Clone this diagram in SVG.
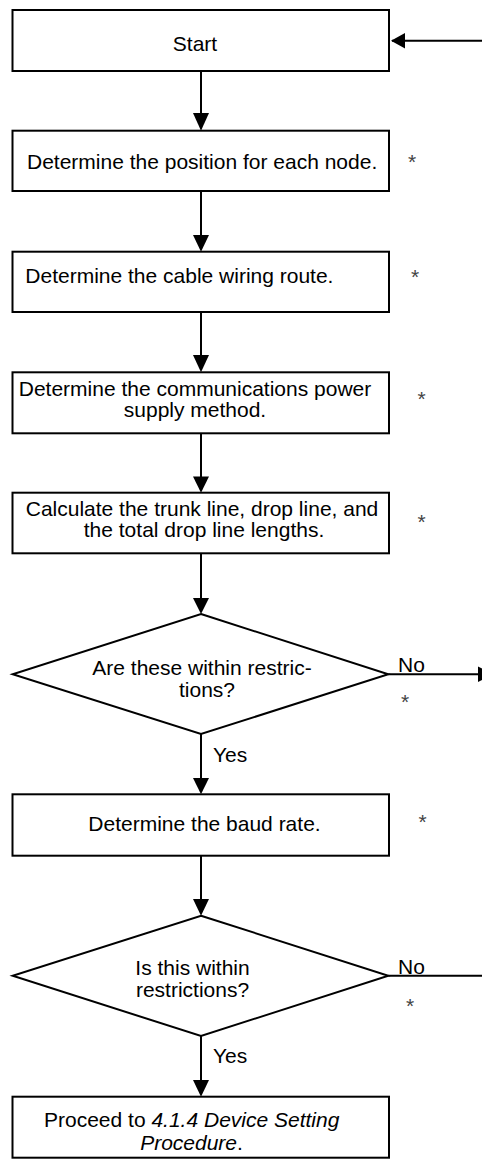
<svg xmlns="http://www.w3.org/2000/svg" width="482" height="1166" viewBox="0 0 482 1166">
<style>
.box{fill:#fff;stroke:#000;stroke-width:2}
.ln{fill:none;stroke:#000;stroke-width:2}
.ah{fill:#000}
.t{font-family:"Liberation Sans",Arial,sans-serif;font-size:21px;fill:#000}
.m{text-anchor:middle}
.ast{font-family:"Liberation Sans",Arial,sans-serif;font-size:21px;fill:#444;text-anchor:middle}
</style>
<rect width="482" height="1166" fill="#fff"/>
<g id="connectors">
<path class="ln" d="M482 40.7H392"/>
<polygon class="ah" points="391,40.7 405,33 405,48.4"/>
<path class="ln" d="M201 71V114"/>
<polygon class="ah" points="201,130.7 193,113 209,113"/>
<path class="ln" d="M201 191V236"/>
<polygon class="ah" points="201,251.7 193,235 209,235"/>
<path class="ln" d="M201 312V356"/>
<polygon class="ah" points="201,372.3 193,355 209,355"/>
<path class="ln" d="M201 433.3V477"/>
<polygon class="ah" points="201,492.7 193,476.5 209,476.5"/>
<path class="ln" d="M201 553.3V599"/>
<polygon class="ah" points="201,614 193,598 209,598"/>
<path class="ln" d="M388.3 674.3H479"/>
<polygon class="ah" points="478,666.5 494,674.3 478,682"/>
<path class="ln" d="M201 734V779"/>
<polygon class="ah" points="201,794.3 193,778 209,778"/>
<path class="ln" d="M201 855.7V900"/>
<polygon class="ah" points="201,915.7 193,899 209,899"/>
<path class="ln" d="M388.3 975.7H482"/>
<path class="ln" d="M201 1036V1081"/>
<polygon class="ah" points="201,1096.7 193,1080 209,1080"/>
<text class="t" x="398" y="671.7">No</text>
<text class="t" x="213" y="761.7">Yes</text>
<text class="t" x="398" y="974">No</text>
<text class="t" x="213" y="1063.3">Yes</text>
</g>
<g id="start">
<rect class="box" x="12.5" y="10" width="376.5" height="61"/>
<text class="t m" x="195" y="51">Start</text>
</g>
<g id="position">
<rect class="box" x="12.5" y="130.7" width="376.5" height="60.3"/>
<text class="t" x="27" y="169.3">Determine the position for each node.</text>
<text class="ast" x="412" y="169">*</text>
</g>
<g id="route">
<rect class="box" x="12.5" y="251.7" width="376.5" height="60.3"/>
<text class="t" x="25.3" y="282.7">Determine the cable wiring route.</text>
<text class="ast" x="415" y="284">*</text>
</g>
<g id="power">
<rect class="box" x="12.5" y="372.3" width="376.5" height="61"/>
<text class="t m" x="195" y="396">Determine the communications power</text>
<text class="t m" x="195" y="416.7">supply method.</text>
<text class="ast" x="421.7" y="405.5">*</text>
</g>
<g id="lengths">
<rect class="box" x="12.5" y="492.7" width="376.5" height="60.6"/>
<text class="t m" x="202" y="516">Calculate the trunk line, drop line, and</text>
<text class="t m" x="204" y="537">the total drop line lengths.</text>
<text class="ast" x="421.7" y="528.5">*</text>
</g>
<g id="check1">
<polygon class="box" points="201,614 388.3,674.3 201,734 12.7,674.3"/>
<text class="t m" x="202" y="675">Are these within restric-</text>
<text class="t m" x="207" y="696.7">tions?</text>
<text class="ast" x="405" y="709">*</text>
</g>
<g id="baud">
<rect class="box" x="12.5" y="794.3" width="376.5" height="61.4"/>
<text class="t m" x="204.5" y="831">Determine the baud rate.</text>
<text class="ast" x="422.7" y="829">*</text>
</g>
<g id="check2">
<polygon class="box" points="201,915.7 388.3,975.7 201,1036 12.7,975.7"/>
<text class="t m" x="192.5" y="975">Is this within</text>
<text class="t m" x="192.5" y="996.7">restrictions?</text>
<text class="ast" x="410" y="1012.5">*</text>
</g>
<g id="proceed">
<rect class="box" x="12.5" y="1096.7" width="376.5" height="61"/>
<text class="t m" x="191.7" y="1126.7">Proceed to <tspan font-style="italic">4.1.4 Device Setting</tspan></text>
<text class="t m" x="191.5" y="1150"><tspan font-style="italic">Procedure</tspan>.</text>
</g>
</svg>
